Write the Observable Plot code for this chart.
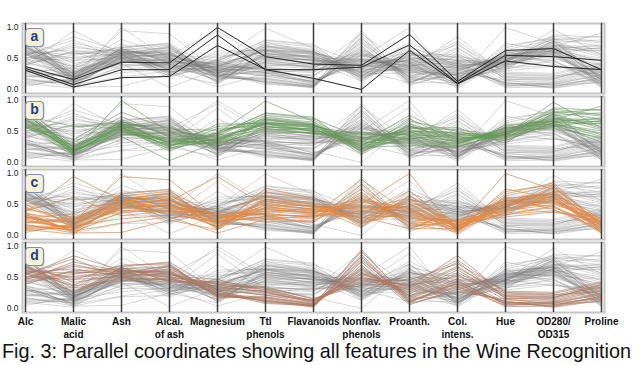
<!DOCTYPE html>
<html>
<head>
<meta charset="utf-8">
<script src="https://cdn.jsdelivr.net/npm/d3@7"></script>
<script src="https://cdn.jsdelivr.net/npm/@observablehq/plot@0.6"></script>
<style>
  html, body { margin: 0; padding: 0; background: #fff; }
  #wrap { position: relative; width: 640px; height: 365px; overflow: hidden; font-family: "Liberation Sans", Arial, Helvetica, sans-serif; }
  #chart { position: absolute; left: 0; top: 0; }
  #caption { position: absolute; left: 2px; top: 342px; font-size: 19.8px; line-height: 19px; color: #111; white-space: nowrap; }
</style>
</head>
<body>
<div id="wrap">
  <div id="chart"></div>
  <div id="caption">Fig. 3: Parallel coordinates showing all features in the Wine Recognition</div>
</div>
<script>
// Axes (features) of the parallel coordinates
const features = ["Alc","Malic\nacid","Ash","Alcal.\nof ash","Magnesium","Ttl\nphenols","Flavanoids","Nonflav.\nphenols","Proanth.","Col.\nintens.","Hue","OD280/\nOD315","Proline"];
const panels = ["a","b","c","d"];
const yTicks = [0, 0.5, 1];
const panelColors = ["#1a1a1a", "#62a052", "#f08a3c", "#b8775a"];
const panelOpacity = [0.9, 0.5, 0.6, 0.55];

// Panel a: three highlighted (black) samples, normalised values
const highlightA = [
  [0.37,0.16,0.44,0.43,1.00,0.53,0.41,0.39,0.89,0.13,0.63,0.66,0.32],
  [0.34,0.08,0.32,0.32,0.88,0.32,0.32,0.36,0.72,0.10,0.55,0.53,0.47],
  [0.31,0.04,0.19,0.21,0.71,0.32,0.18,0.00,0.63,0.09,0.46,0.37,0.32]
];

// Class 1 (green, panel b)
const class1 = [
  [0.84,0.19,0.57,0.26,0.62,0.63,0.57,0.28,0.59,0.37,0.46,0.97,0.56],
  [0.57,0.21,0.42,0.03,0.33,0.58,0.51,0.25,0.27,0.26,0.46,0.78,0.55],
  [0.56,0.32,0.74,0.41,0.34,0.63,0.61,0.32,0.76,0.38,0.45,0.70,0.65],
  [0.88,0.24,0.59,0.32,0.47,0.99,0.66,0.21,0.56,0.56,0.31,0.80,0.86],
  [0.58,0.37,0.81,0.54,0.52,0.63,0.50,0.49,0.44,0.26,0.46,0.61,0.33],
  [0.83,0.20,0.66,0.46,0.46,0.79,0.71,0.40,0.50,0.47,0.35,0.65,0.72],
  [0.72,0.18,0.54,0.34,0.32,0.52,0.55,0.23,0.40,0.31,0.52,0.66,0.62],
  [0.73,0.21,0.67,0.28,0.38,0.64,0.57,0.30,0.48,0.44,0.44,0.58,0.68],
  [0.67,0.17,0.58,0.21,0.40,0.62,0.56,0.19,0.42,0.35,0.53,0.72,0.53],
  [0.65,0.13,0.53,0.22,0.48,0.69,0.61,0.26,0.59,0.34,0.49,0.71,0.69],
  [0.78,0.23,0.62,0.38,0.25,0.68,0.60,0.36,0.53,0.33,0.45,0.83,0.75],
  [0.62,0.20,0.48,0.37,0.29,0.55,0.47,0.41,0.35,0.29,0.57,0.63,0.42],
  [0.70,0.14,0.63,0.30,0.36,0.73,0.65,0.17,0.62,0.41,0.40,0.76,0.80],
  [0.76,0.27,0.55,0.25,0.55,0.59,0.52,0.34,0.38,0.45,0.41,0.60,0.48],
  [0.80,0.17,0.60,0.35,0.43,0.76,0.69,0.22,0.67,0.50,0.38,0.69,0.91],
  [0.61,0.11,0.51,0.29,0.31,0.50,0.48,0.38,0.33,0.27,0.60,0.67,0.45],
  [0.74,0.25,0.69,0.43,0.37,0.66,0.58,0.45,0.46,0.39,0.48,0.74,0.58],
  [0.69,0.16,1.00,0.49,0.41,0.61,0.53,0.29,0.49,0.32,0.55,0.62,0.51],
  [0.86,0.29,0.56,0.18,0.50,0.71,0.63,0.13,0.55,0.53,0.43,0.86,0.77],
  [0.64,0.22,0.45,0.40,0.27,0.47,0.49,0.33,0.31,0.24,0.50,0.56,0.40],
  [0.75,0.58,0.64,0.31,0.44,0.57,0.54,0.26,0.44,0.42,0.36,0.64,0.63],
  [0.71,0.15,0.61,0.24,0.34,0.70,0.62,0.20,0.70,0.36,0.51,0.81,0.70],
  [0.79,0.19,0.50,0.33,0.58,0.65,0.59,0.39,0.51,0.48,0.42,0.68,0.66],
  [0.60,0.26,0.65,0.52,0.39,0.54,0.46,0.48,0.37,0.30,0.56,0.59,0.38],
  [0.82,0.12,0.57,0.27,0.45,0.80,0.73,0.16,0.58,0.46,0.47,0.88,0.84]
];

// Class 2 (orange, panel c)
const class2 = [
  [0.34,0.07,0.20,0.30,0.04,0.26,0.32,0.30,0.11,0.11,0.51,0.56,0.11],
  [0.20,0.24,0.51,0.57,0.32,0.44,0.36,0.54,0.42,0.16,0.39,0.61,0.16],
  [0.26,0.11,0.45,0.48,0.26,0.52,0.42,0.34,0.47,0.13,0.55,0.67,0.22],
  [0.38,0.95,0.57,0.64,0.30,0.36,0.28,0.66,0.22,0.18,0.33,0.48,0.07],
  [0.11,0.16,0.67,0.74,0.13,0.55,0.45,0.43,0.60,0.10,0.48,0.78,0.19],
  [0.31,0.05,0.38,0.41,0.22,0.30,0.22,0.83,0.19,0.06,0.62,0.42,0.09],
  [0.22,0.13,0.43,0.51,0.18,0.70,0.58,0.26,0.72,0.12,0.71,0.82,0.14],
  [0.45,0.20,0.62,0.55,0.95,0.48,0.35,0.37,0.55,0.21,0.44,0.53,0.28],
  [0.16,0.09,0.50,0.45,0.27,0.40,0.38,0.47,0.31,0.08,0.57,0.62,0.05],
  [0.29,0.18,0.55,0.62,0.11,0.58,0.49,0.21,0.37,0.17,0.46,0.71,0.18],
  [0.40,0.62,0.32,0.40,0.35,0.22,0.24,0.60,0.16,0.20,0.30,0.38,0.24],
  [0.08,0.14,0.59,0.68,0.20,0.45,0.40,0.51,1.00,0.04,0.53,0.58,0.12],
  [0.35,0.26,0.41,0.38,0.38,0.33,0.31,0.40,0.28,0.22,0.40,0.50,0.26],
  [0.18,0.04,0.05,0.25,0.09,0.62,0.50,0.19,0.50,0.14,1.00,0.74,0.03],
  [0.27,0.22,0.95,0.90,0.29,0.39,0.33,0.90,0.35,0.15,0.36,0.45,0.17],
  [0.13,0.10,0.47,0.53,0.16,0.50,0.43,0.45,0.41,0.09,0.60,0.66,0.10],
  [0.42,0.30,0.52,0.58,0.24,0.27,0.21,0.70,0.13,0.25,0.34,0.40,0.21],
  [0.24,0.12,0.36,0.44,0.14,0.76,0.60,0.15,0.65,0.11,0.67,0.85,0.15],
  [0.05,0.19,0.64,0.71,0.31,0.42,0.37,0.56,0.45,0.02,0.49,0.63,0.08],
  [0.33,0.08,0.49,0.35,0.21,0.56,0.47,0.28,0.33,0.19,0.58,0.69,0.20],
  [0.50,0.17,0.58,0.50,0.28,0.35,0.30,0.62,0.25,0.23,0.42,0.55,0.30],
  [0.21,0.28,0.44,0.60,0.10,0.46,0.39,0.35,0.52,0.07,0.75,0.60,0.13],
  [0.37,0.06,0.53,0.47,0.36,0.64,0.52,0.23,0.58,0.16,0.45,0.76,0.25],
  [0.15,0.15,0.27,0.33,0.23,0.31,0.27,0.75,0.20,0.13,0.52,0.47,0.04],
  [0.28,0.35,0.60,0.66,0.19,0.49,0.41,0.48,0.39,0.10,0.38,0.57,0.16],
  [0.58,0.11,0.46,0.39,0.15,0.43,0.34,0.32,0.30,0.24,0.56,0.52,0.23],
  [0.10,0.02,0.55,0.56,0.25,0.37,0.44,0.58,0.43,0.05,0.64,0.80,0.06],
  [0.30,0.21,0.39,0.49,0.12,0.59,0.46,0.13,0.64,0.20,0.41,0.65,0.19]
];

// Class 3 (brown, panel d)
const class3 = [
  [0.60,0.57,0.61,0.56,0.30,0.22,0.08,0.62,0.20,0.55,0.14,0.12,0.29],
  [0.49,0.71,0.55,0.64,0.24,0.12,0.04,0.81,0.09,0.42,0.08,0.05,0.20],
  [0.66,0.38,0.63,0.50,0.42,0.30,0.12,0.45,0.33,0.68,0.20,0.18,0.36],
  [0.55,0.80,0.48,0.69,0.20,0.17,0.06,0.92,0.14,0.36,0.05,0.09,0.16],
  [0.71,0.24,0.66,0.44,0.36,0.35,0.15,0.38,0.41,0.78,0.26,0.24,0.41],
  [0.43,0.52,0.58,0.60,0.28,0.10,0.03,0.70,0.06,0.31,0.12,0.02,0.13],
  [0.58,0.64,0.52,0.53,0.47,0.26,0.10,0.55,0.27,0.62,0.17,0.14,0.31],
  [0.52,0.46,0.70,0.72,0.17,0.19,0.07,0.66,0.18,0.48,0.10,0.08,0.24],
  [0.68,0.33,0.45,0.47,0.33,0.28,0.11,0.50,0.36,0.85,0.23,0.21,0.38],
  [0.46,0.75,0.60,0.58,0.22,0.14,0.02,0.87,0.11,0.40,0.03,0.04,0.18],
  [0.63,0.50,0.57,0.51,0.39,0.24,0.13,0.58,0.24,0.58,0.19,0.16,0.33],
  [0.39,0.61,0.64,0.67,0.26,0.08,0.05,0.75,0.08,0.27,0.15,0.07,0.11],
  [0.57,0.28,0.50,0.42,0.44,0.33,0.16,0.42,0.46,0.72,0.28,0.26,0.43],
  [0.51,0.68,0.59,0.62,0.19,0.16,0.04,0.78,0.16,0.45,0.07,0.10,0.22],
  [0.74,0.42,0.54,0.55,0.35,0.27,0.09,0.52,0.30,0.66,0.21,0.19,0.35],
  [0.45,0.55,0.68,0.75,0.29,0.11,0.06,0.95,0.12,0.34,0.11,0.03,0.15],
  [0.62,0.36,0.47,0.49,0.31,0.21,0.14,0.48,0.38,0.52,0.25,0.22,0.27],
  [0.54,0.85,0.62,0.59,0.23,0.18,0.07,0.64,0.21,0.39,0.09,0.11,0.25],
  [0.67,0.47,0.51,0.45,0.40,0.31,0.12,0.56,0.34,0.75,0.16,0.17,0.39],
  [0.48,0.59,0.56,0.70,0.21,0.13,0.05,0.84,0.10,0.44,0.06,0.06,0.19]
];

// ---- build long-format tables ----
const allRows = [...class1, ...class2, ...class3, ...highlightA];
const hiSets = [highlightA, class1, class2, class3];
const toLong = (rows, panel, prefix) =>
  rows.flatMap((row, i) => row.map((v, j) => ({panel, id: prefix + i, feature: features[j], value: v})));
const grayData = panels.flatMap(p => toLong(allRows, p, "g"));
const hiData = panels.map((p, k) => toLong(hiSets[k], p, "h"));

// rounded-square symbol for the panel badges
const roundedSquare = {
  draw(context) {
    const w = 18, h = 18, r = 3.5, x0 = -w / 2, y0 = -h / 2, x1 = w / 2, y1 = h / 2;
    context.moveTo(x0 + r, y0);
    context.arcTo(x1, y0, x1, y1, r);
    context.arcTo(x1, y1, x0, y1, r);
    context.arcTo(x0, y1, x0, y0, r);
    context.arcTo(x0, y0, x1, y0, r);
    context.closePath();
  }
};

const fontFamily = '"Liberation Sans", Arial, Helvetica, sans-serif';

const chart = Plot.plot({
  width: 640,
  height: 345,
  marginLeft: 22,
  marginRight: 36,
  marginTop: 21,
  marginBottom: 31,
  style: {fontFamily, background: "white", overflow: "visible"},
  x: {type: "point", domain: features, padding: 0, axis: null},
  y: {domain: [0, 1], insetTop: 4, insetBottom: 4, axis: null},
  fy: {domain: panels, paddingInner: 0.0405, paddingOuter: 0, axis: null},
  marks: [
    Plot.line(grayData, {x: "feature", y: "value", z: "id", fy: "panel", stroke: "#7a7a7a", strokeOpacity: 0.36, strokeWidth: 0.8}),
    ...panels.map((p, k) => Plot.line(hiData[k], {x: "feature", y: "value", z: "id", fy: "panel", stroke: panelColors[k], strokeOpacity: panelOpacity[k], strokeWidth: k === 0 ? 1 : 0.8})),
    Plot.frame({stroke: "#c6c6c6", strokeWidth: 2}),
    Plot.ruleX(features, {stroke: "#3c3c3c", strokeWidth: 1.5}),
    Plot.axisY({ticks: yTicks, tickFormat: d3.format(".1f"), tickSize: 0, tickPadding: 4, fontSize: 8.5, fill: "#222", label: null}),
    Plot.axisX({tickSize: 0, tickPadding: 3, fontSize: 10, fontWeight: "bold", lineHeight: 1.3, fill: "#111", label: null}),
    Plot.dot(panels, {fy: d => d, frameAnchor: "top-left", dx: 13, dy: 15, symbol: roundedSquare, fill: "#cfd6e6", stroke: "none", r: 9}),
    Plot.dot(panels, {fy: d => d, frameAnchor: "top-left", dx: 12, dy: 14, symbol: roundedSquare, fill: "#fcf3d3", stroke: "#7b90bf", strokeWidth: 1.2, r: 9}),
    Plot.text(panels, {fy: d => d, text: d => d, frameAnchor: "top-left", textAnchor: "middle", lineAnchor: "middle", dx: 12, dy: 13.5, fill: "#1f3d96", fontWeight: "bold", fontSize: 14})
  ]
});

document.getElementById("chart").appendChild(chart);
</script>
</body>
</html>
